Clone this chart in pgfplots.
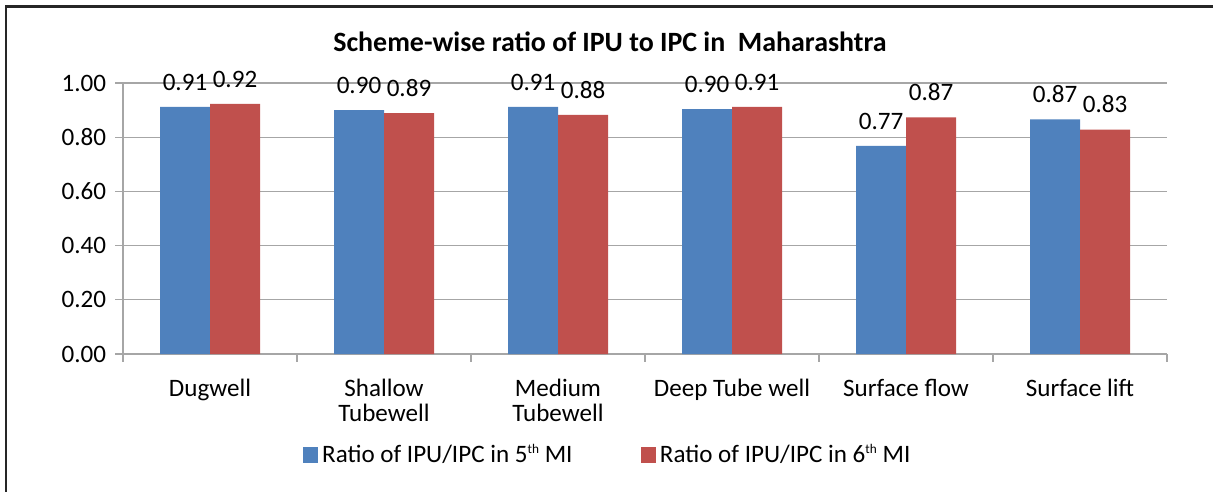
\documentclass[border=0pt]{standalone}
\usepackage{pgfplots}
\pgfplotsset{compat=1.18}
\usepackage{fontspec}
\setmainfont{Carlito}
\definecolor{barblue}{HTML}{4F81BD}
\definecolor{barred}{HTML}{C0504D}
\definecolor{gridgray}{HTML}{A6A6A6}
\newcommand{\lblfont}{\fontsize{13.2}{13.2}\selectfont}
\newcommand{\sth}{\raisebox{0.75ex}{\fontsize{7}{7}\selectfont th}}
\begin{document}
\begin{tikzpicture}
\useasboundingbox (0,0) rectangle (22.44,-9.0835);
\draw[line width=0.045cm, black!85] (0.111,-9.2) -- (0.111,-0.12) -- (22.6,-0.12);
\node[font=\bfseries\fontsize{14.7}{17}\selectfont] at (11.285,-0.777)
    {Scheme-wise ratio of IPU to IPC in \ Maharashtra};
\begin{axis}[
    at={(2.2755cm,-6.549cm)}, anchor=south west,
    scale only axis, width=19.314cm, height=5.0135cm,
    ybar=0pt, bar width=0.925cm,
    ymin=0, ymax=1, ytick={0,0.2,0.4,0.6,0.8,1.0},
    xmin=-0.5, xmax=5.5,
    xtick={-0.5,0.5,1.5,2.5,3.5,4.5,5.5},
    x tick label as interval,
    xticklabels={Dugwell, {Shallow\\Tubewell}, {Medium\\Tubewell},
                 Deep Tube well, Surface flow, Surface lift},
    axis x line*=bottom, axis y line*=left,
    axis line style={-, gridgray, line width=0.025cm},
    tick align=outside, major tick length=0.14cm,
    tick style={gridgray, line width=0.025cm},
    ymajorgrids, grid style={gridgray, line width=0.025cm},
    /pgf/number format/.cd, fixed, fixed zerofill, precision=2,
        assume math mode=true, /pgfplots/.cd,
    tick label style={font=\lblfont},
    yticklabel style={xshift=-0.05cm},
    xticklabel style={align=center, yshift=-0.2cm},
    nodes near coords,
    every node near coord/.append style={font=\lblfont, black, yshift=0.18cm},
    legend columns=2,
    legend style={draw=none, fill=none, at={(0.1724,-0.3727)}, anchor=west,
                  inner sep=0pt, font=\lblfont,
                  /tikz/every even column/.append style={column sep=1.2cm}},
    every axis plot post/.append style={
        legend image code/.code={\fill (0cm,-0.139cm) rectangle (0.2775cm,0.139cm);}},
]
\addplot[fill=barblue, draw=none] coordinates {
    (0,0.912) (1,0.900) (2,0.912) (3,0.904) (4,0.768) (5,0.866)};
\addlegendentry{Ratio of IPU/IPC in 5\sth\ MI}
\addplot[fill=barred, draw=none] coordinates {
    (0,0.923) (1,0.889) (2,0.882) (3,0.912) (4,0.873) (5,0.828)};
\addlegendentry{Ratio of IPU/IPC in 6\sth\ MI}
\end{axis}
\end{tikzpicture}
\end{document}
